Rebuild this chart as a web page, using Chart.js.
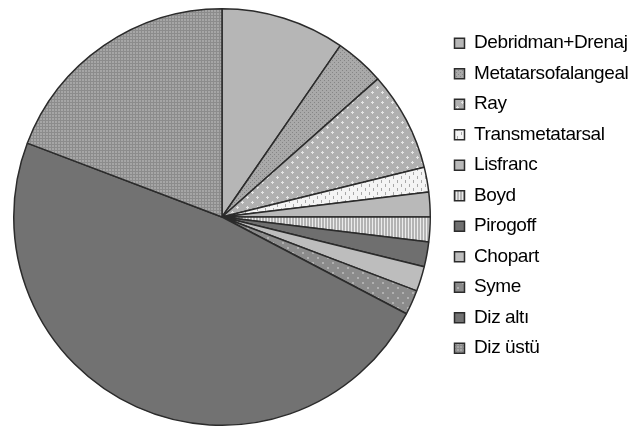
<!DOCTYPE html>
<html>
<head>
<meta charset="utf-8">
<script src="https://cdn.jsdelivr.net/npm/chart.js@4.4.1/dist/chart.umd.min.js"></script>
<style>
    body { margin: 0; background: #fff; }
    #wrap { width: 632px; height: 428px; }
</style>
</head>
<body>
<div id="wrap"><canvas id="ampChart" width="632" height="428"></canvas></div>
<script>
// amputation types (legend order, clockwise from 12 o'clock)
const labels = ['Debridman+Drenaj', 'Metatarsofalangeal', 'Ray', 'Transmetatarsal', 'Lisfranc',
    'Boyd', 'Pirogoff', 'Chopart', 'Syme', 'Diz altı', 'Diz üstü'];
const counts = [5, 2, 4, 1, 1, 1, 1, 1, 1, 25, 10];

// small tiled fills like the old grayscale office charts
function makePattern(size, base, draw) {
    const c = document.createElement('canvas');
    c.width = size;
    c.height = size;
    const g = c.getContext('2d');
    g.fillStyle = base;
    g.fillRect(0, 0, size, size);
    if (draw) draw(g);
    return g.createPattern(c, 'repeat');
}

const ctx = document.getElementById('ampChart').getContext('2d');

const fills = [
    '#b6b6b6',
    makePattern(4, '#a9a9a9', g => { g.fillStyle = '#858585'; g.fillRect(0, 0, 1, 1); g.fillRect(2, 2, 1, 1); }),
    makePattern(10, '#b0b0b0', g => { g.fillStyle = '#e6e6e6'; g.fillRect(2, 1, 1, 3); g.fillRect(1, 2, 3, 1); g.fillRect(7, 6, 1, 3); g.fillRect(6, 7, 3, 1); }),
    makePattern(8, '#f4f4f4', g => { g.fillStyle = '#a8a8a8'; g.fillRect(1, 0, 1, 3); g.fillRect(5, 4, 1, 3); }),
    '#b9b9b9',
    makePattern(3, '#b4b4b4', g => { g.fillStyle = '#ececec'; g.fillRect(0, 0, 1, 3); }),
    '#6f6f6f',
    '#bdbdbd',
    makePattern(10, '#8b8b8b', g => { g.fillStyle = '#b0b0b0'; g.fillRect(2, 2, 2, 2); g.fillRect(7, 7, 2, 2); }),
    '#727272',
    makePattern(3, '#a6a6a6', g => { g.fillStyle = '#8c8c8c'; g.fillRect(0, 0, 1, 3); g.fillRect(0, 0, 3, 1); })
];

// legend text in the reference is a bit squeezed
const tightText = {
    id: 'tightText',
    beforeUpdate(chart) { chart.ctx.letterSpacing = '-0.4px'; },
    beforeDraw(chart) { chart.ctx.letterSpacing = '-0.4px'; }
};

new Chart(ctx, {
    type: 'pie',
    data: {
        labels: labels,
        datasets: [{
            data: counts,
            backgroundColor: fills,
            borderColor: '#2b2b2b',
            borderWidth: 1.5
        }]
    },
    options: {
        responsive: false,
        animation: false,
        layout: { padding: { left: 1, top: 8, bottom: 2, right: 0 } },
        plugins: {
            tooltip: { enabled: false },
            legend: {
                position: 'right',
                align: 'start',
                maxWidth: 189,
                title: { display: true, text: '', font: { size: 1 }, padding: { top: 13, bottom: 0 } },
                labels: {
                    boxWidth: 10,
                    boxHeight: 10,
                    padding: 11.5,
                    color: '#000',
                    font: { family: 'Liberation Sans, Arial, sans-serif', size: 19 }
                }
            }
        }
    },
    plugins: [tightText]
});
</script>
</body>
</html>
